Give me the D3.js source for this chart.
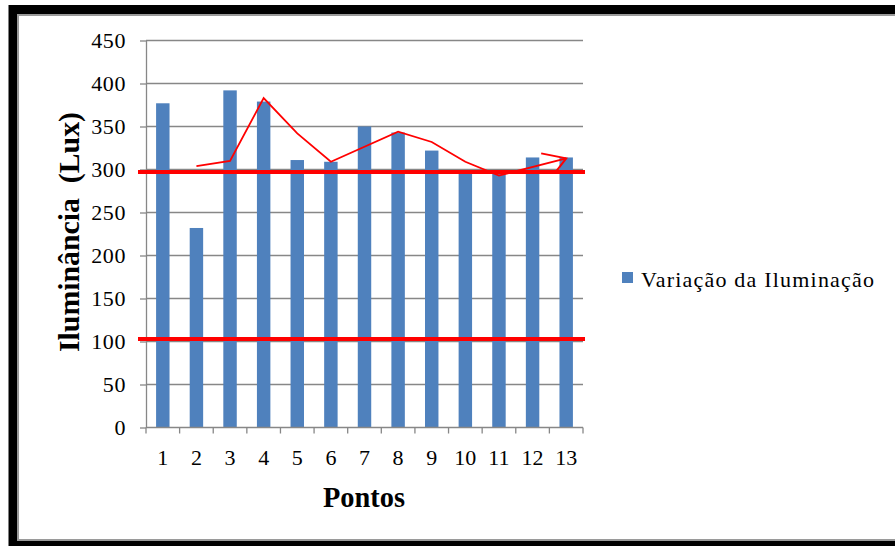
<!DOCTYPE html>
<html>
<head>
<meta charset="utf-8">
<script src="https://cdn.jsdelivr.net/npm/d3@7/dist/d3.min.js"></script>
<style>
  html, body { margin: 0; padding: 0; background: #fff; }
  svg { display: block; }
</style>
</head>
<body>
<svg id="chart" width="895" height="546"></svg>
<script>
// Measurement points and their illuminance readings (lux)
const pontos = ["1","2","3","4","5","6","7","8","9","10","11","12","13"];
const iluminancia = [377, 232, 392, 379, 311, 309, 350, 343, 322, 296, 295, 314, 314];

// Y axis tick values
const yTicks = [0, 50, 100, 150, 200, 250, 300, 350, 400, 450];

// Reference limits marked across the chart
const limites = [297, 103];

// Hand-drawn trend arrow over the bars
const tendenciaPontos = ["2","3","4","5","6","8","9","10","11","13"];
const tendenciaValores = [304, 310, 383, 342, 309, 344, 332, 309, 293, 313];

const seriesName = "Variação da Iluminação";
const yTitle = "Iluminância  (Lux)";
const xTitle = "Pontos";

const serif = '"Liberation Serif", "Times New Roman", Times, serif';
const svg = d3.select("#chart");
const gridColor = "#878787";
const barColor = "#4F81BD";

// Frame around the chart
svg.append("rect")
  .attr("x", 13).attr("y", 9.5).attr("width", 900).attr("height", 536)
  .attr("fill", "#fff").attr("stroke", "#000").attr("stroke-width", 9);
svg.append("rect")
  .attr("x", 18).attr("y", 15).attr("width", 900).attr("height", 525)
  .attr("fill", "none").attr("stroke", "#9a9a9a").attr("stroke-width", 2);

const plotLeft = 146, plotRight = 583, plotTop = 40.5, plotBottom = 427.5;

const x = d3.scaleBand().domain(pontos).range([plotLeft, plotRight])
  .paddingInner(0.6).paddingOuter(0.3);
const y = d3.scaleLinear().domain([0, 450]).range([plotBottom, plotTop]);

const defs = svg.append("defs");
defs.append("filter").attr("id", "sombra")
  .attr("x", "-5%").attr("y", "-200%").attr("width", "110%").attr("height", "500%")
  .append("feGaussianBlur").attr("stdDeviation", 1.5);
defs.append("marker").attr("id", "seta")
  .attr("markerUnits", "userSpaceOnUse")
  .attr("viewBox", "-26 -14 30 28")
  .attr("markerWidth", 30).attr("markerHeight", 28)
  .attr("refX", 0).attr("refY", 0)
  .attr("orient", "auto")
  .append("path")
  .attr("d", "M-23,-11 L0,0 L-14,11")
  .attr("fill", "none").attr("stroke", "#ff0000").attr("stroke-width", 2)
  .attr("stroke-linejoin", "miter");

// Horizontal gridlines
svg.append("g").selectAll("line").data(yTicks.filter(d => d > 0)).join("line")
  .attr("x1", plotLeft).attr("x2", plotRight)
  .attr("y1", d => y(d)).attr("y2", d => y(d))
  .attr("stroke", gridColor).attr("stroke-width", 1.3);

// Y axis
const yAxis = svg.append("g").attr("transform", `translate(${plotLeft},0)`)
  .call(d3.axisLeft(y).tickValues(yTicks).tickSize(6).tickSizeOuter(0).tickPadding(14));
yAxis.select(".domain").attr("stroke", gridColor).attr("stroke-width", 1.3);
yAxis.selectAll(".tick line").attr("stroke", gridColor).attr("stroke-width", 1.3);
yAxis.selectAll(".tick text")
  .style("font-family", serif)
  .style("font-size", "22px").attr("fill", "#000")
  .attr("dy", "0.34em").attr("letter-spacing", "0.6px");

// Bars
svg.append("g").selectAll("rect").data(iluminancia).join("rect")
  .attr("x", (d, i) => x(pontos[i]))
  .attr("y", d => y(d))
  .attr("width", x.bandwidth())
  .attr("height", d => y(0) - y(d))
  .attr("fill", barColor);

// X axis line and category boundary ticks
svg.append("line")
  .attr("x1", plotLeft).attr("x2", plotRight).attr("y1", y(0)).attr("y2", y(0))
  .attr("stroke", gridColor).attr("stroke-width", 1.3);
const fronteiras = d3.range(pontos.length + 1).map(i => plotLeft + i * x.step());
svg.append("g").selectAll("line").data(fronteiras).join("line")
  .attr("x1", d => d).attr("x2", d => d)
  .attr("y1", y(0)).attr("y2", y(0) + 6)
  .attr("stroke", gridColor).attr("stroke-width", 1.3);

// X axis labels
const xAxis = svg.append("g").attr("transform", `translate(0,${y(0)})`)
  .call(d3.axisBottom(x).tickSize(0).tickPadding(22));
xAxis.select(".domain").remove();
xAxis.selectAll(".tick text")
  .style("font-family", serif)
  .style("font-size", "22px").attr("fill", "#000").attr("dy", "0.71em");

// Reference limit lines with a soft shadow
svg.append("g").selectAll("line").data(limites).join("line")
  .attr("x1", 138).attr("x2", 585)
  .attr("y1", d => y(d) + 2.5).attr("y2", d => y(d) + 2.5)
  .attr("stroke", "#000").attr("stroke-opacity", 0.3).attr("stroke-width", 4)
  .attr("filter", "url(#sombra)");
svg.append("g").selectAll("line").data(limites).join("line")
  .attr("x1", 138).attr("x2", 585)
  .attr("y1", d => y(d)).attr("y2", d => y(d))
  .attr("stroke", "#ff0000").attr("stroke-width", 4);

// Trend arrow
const linha = d3.line()
  .x((d, i) => x(tendenciaPontos[i]) + x.bandwidth() / 2)
  .y(d => y(d));
svg.append("path")
  .datum(tendenciaValores)
  .attr("d", linha)
  .attr("fill", "none").attr("stroke", "#ff0000").attr("stroke-width", 1.8)
  .attr("stroke-linejoin", "miter")
  .attr("marker-end", "url(#seta)");

// Axis titles
svg.append("text")
  .attr("transform", "translate(79,232) rotate(-90)")
  .attr("text-anchor", "middle")
  .attr("xml:space", "preserve")
  .style("font-family", serif)
  .style("font-size", "29px").style("font-weight", "bold")
  .attr("textLength", 240).attr("lengthAdjust", "spacingAndGlyphs")
  .text(yTitle);
svg.append("text")
  .attr("x", 364).attr("y", 507)
  .attr("text-anchor", "middle")
  .style("font-family", serif)
  .style("font-size", "29px").style("font-weight", "bold")
  .attr("textLength", 82).attr("lengthAdjust", "spacingAndGlyphs")
  .text(xTitle);

// Legend
svg.append("rect")
  .attr("x", 622).attr("y", 272).attr("width", 11).attr("height", 11)
  .attr("fill", barColor);
svg.append("text")
  .attr("x", 641).attr("y", 287)
  .style("font-family", serif)
  .style("font-size", "22px")
  .attr("textLength", 233).attr("lengthAdjust", "spacing")
  .text(seriesName);
</script>
</body>
</html>
